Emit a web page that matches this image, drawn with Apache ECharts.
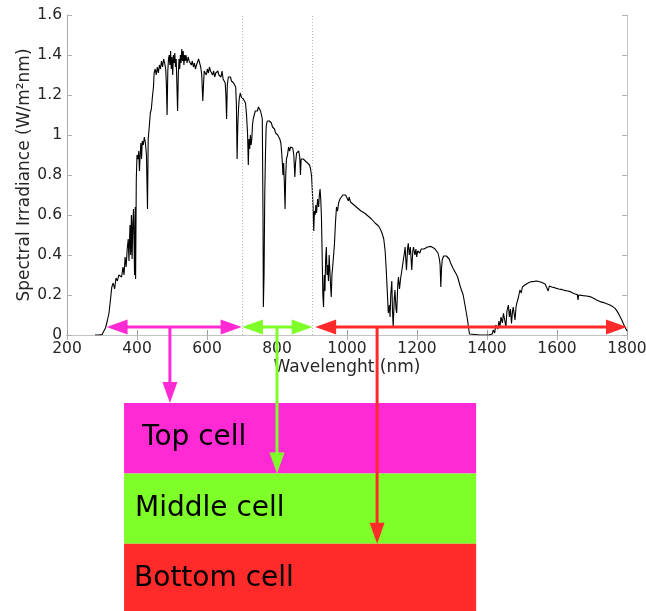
<!DOCTYPE html>
<html>
<head>
<meta charset="UTF-8">
<title>Spectral irradiance and cell layers</title>
<script src="https://cdn.jsdelivr.net/npm/echarts@6/dist/echarts.min.js"></script>
<style>
  html, body { margin: 0; padding: 0; background: #fff; }
  #chart { width: 646px; height: 611px; }
</style>
</head>
<body>
<div id="chart"></div>
<script>
// spectrum: [wavelength nm, irradiance W/(m2 nm)]
const specUv = [
  [280, 0.000], [290, 0.000], [300, 0.002], [305, 0.010], [310, 0.035], [315, 0.070],
  [320, 0.110], [325, 0.190], [328, 0.240], [332, 0.260], [336, 0.230], [340, 0.285],
  [344, 0.270], [348, 0.300], [352, 0.310], [356, 0.290], [360, 0.340], [363, 0.300],
  [366, 0.390], [369, 0.340], [372, 0.430], [375, 0.480], [377, 0.370], [380, 0.550],
  [382, 0.400], [384, 0.600], [386, 0.380], [388, 0.560], [390, 0.630], [392, 0.420],
  [393, 0.300], [395, 0.640], [396, 0.280], [398, 0.780]
];
const specBlue = [
  [400, 0.900], [403, 0.880], [405, 0.920], [407, 0.820], [409, 0.900], [411, 0.960],
  [413, 0.880], [415, 0.970], [418, 0.950], [421, 0.990], [424, 0.960], [427, 0.900],
  [430, 0.630], [432, 0.980], [435, 1.040], [438, 1.110], [441, 1.130], [444, 1.190],
  [447, 1.240], [449, 1.310], [452, 1.330], [455, 1.300], [458, 1.340], [461, 1.310],
  [464, 1.350], [467, 1.330], [470, 1.370], [473, 1.340], [476, 1.380], [479, 1.360],
  [482, 1.330], [484, 1.250], [486, 1.100], [488, 1.320], [490, 1.380], [492, 1.400],
  [494, 1.350], [496, 1.420], [498, 1.330]
];
const specGreen = [
  [500, 1.390], [502, 1.300], [504, 1.400], [506, 1.360], [508, 1.410], [510, 1.340],
  [512, 1.380], [514, 1.250], [516, 1.120], [518, 1.300], [520, 1.380], [522, 1.330],
  [524, 1.400], [526, 1.360], [528, 1.430], [530, 1.370], [532, 1.420], [534, 1.350],
  [536, 1.400], [538, 1.370], [540, 1.400], [543, 1.360], [546, 1.390], [549, 1.370],
  [552, 1.380], [555, 1.350], [558, 1.370], [561, 1.340], [564, 1.360], [567, 1.330],
  [570, 1.350], [573, 1.340], [576, 1.380], [579, 1.370], [582, 1.340], [585, 1.300],
  [588, 1.170], [590, 1.250], [592, 1.320], [595, 1.310], [598, 1.300]
];
const specRed = [
  [601, 1.330], [604, 1.310], [607, 1.340], [610, 1.320], [613, 1.330], [616, 1.300],
  [619, 1.320], [622, 1.290], [625, 1.310], [628, 1.300], [631, 1.320], [634, 1.300],
  [637, 1.310], [640, 1.290], [643, 1.320], [646, 1.280], [649, 1.290], [652, 1.260],
  [654, 1.200], [656, 1.080], [658, 1.250], [661, 1.290], [664, 1.280], [667, 1.290],
  [670, 1.270], [673, 1.280], [676, 1.260], [679, 1.270], [682, 1.240], [684, 1.150],
  [686, 0.880], [688, 1.050], [690, 1.130], [692, 1.180], [695, 1.210], [698, 1.190]
];
const specNear = [
  [701, 1.200], [704, 1.180], [707, 1.190], [710, 1.160], [713, 1.100], [716, 1.000],
  [718, 0.850], [720, 0.980], [722, 0.930], [724, 1.000], [726, 0.950], [728, 0.980],
  [730, 1.050], [732, 1.080], [735, 1.100], [738, 1.120], [741, 1.130], [744, 1.120],
  [747, 1.140], [750, 1.130], [753, 1.120], [756, 1.110], [758, 1.080], [760, 0.600],
  [761, 0.140], [763, 0.300], [765, 0.700], [767, 0.900], [769, 1.040], [772, 1.070],
  [775, 1.080], [778, 1.070], [781, 1.070], [784, 1.060], [787, 1.040], [790, 1.030],
  [793, 1.030], [796, 1.010], [799, 1.010], [802, 1.000], [805, 0.990], [808, 0.980],
  [811, 0.960], [813, 0.920], [815, 0.870], [817, 0.800], [819, 0.860], [821, 0.760],
  [823, 0.630], [825, 0.800], [827, 0.880], [830, 0.900], [833, 0.940], [836, 0.920],
  [839, 0.940], [842, 0.930], [845, 0.935], [848, 0.900], [851, 0.790], [853, 0.860],
  [856, 0.910], [859, 0.900], [862, 0.920], [865, 0.890], [867, 0.800], [869, 0.880],
  [872, 0.890], [875, 0.880], [878, 0.880], [881, 0.870], [884, 0.875], [887, 0.860],
  [890, 0.865], [893, 0.850], [896, 0.830], [899, 0.790]
];
const specIr1 = [
  [901, 0.720], [903, 0.640], [905, 0.520], [907, 0.620], [909, 0.600], [911, 0.650],
  [913, 0.610], [916, 0.680], [919, 0.640], [921, 0.700], [923, 0.730], [925, 0.680],
  [927, 0.590], [929, 0.400], [931, 0.200], [933, 0.140], [935, 0.300], [937, 0.220],
  [939, 0.380], [941, 0.440], [943, 0.300], [945, 0.350], [947, 0.270], [949, 0.400],
  [951, 0.410], [953, 0.250], [955, 0.190], [957, 0.300], [959, 0.340], [961, 0.340],
  [964, 0.450], [967, 0.560], [970, 0.640], [973, 0.620], [976, 0.660], [980, 0.680],
  [984, 0.690], [988, 0.700], [992, 0.705], [996, 0.700], [1000, 0.690], [1004, 0.670],
  [1006, 0.690], [1010, 0.665], [1015, 0.655], [1020, 0.650], [1025, 0.640], [1030, 0.635],
  [1035, 0.630], [1040, 0.620], [1045, 0.615], [1050, 0.610], [1055, 0.605], [1060, 0.595],
  [1065, 0.590], [1070, 0.580], [1075, 0.570], [1080, 0.560], [1085, 0.550], [1090, 0.545],
  [1095, 0.530], [1100, 0.510], [1105, 0.480], [1109, 0.420], [1112, 0.330], [1115, 0.220],
  [1118, 0.110], [1121, 0.150], [1123, 0.090], [1125, 0.200], [1128, 0.270], [1130, 0.120],
  [1132, 0.040], [1135, 0.180], [1137, 0.225], [1140, 0.130], [1142, 0.110], [1145, 0.250],
  [1147, 0.290], [1150, 0.230], [1153, 0.280], [1156, 0.270], [1159, 0.350], [1161, 0.375],
  [1164, 0.410], [1166, 0.440], [1168, 0.380], [1170, 0.325], [1173, 0.430], [1175, 0.458],
  [1178, 0.400], [1181, 0.440], [1185, 0.325], [1188, 0.420], [1190, 0.440], [1194, 0.400],
  [1197, 0.430], [1199, 0.390]
];
const specIr2 = [
  [1202, 0.420], [1204, 0.430], [1208, 0.410], [1212, 0.430], [1216, 0.420], [1220, 0.430],
  [1225, 0.435], [1230, 0.440], [1235, 0.445], [1240, 0.443], [1245, 0.440], [1250, 0.433],
  [1255, 0.425], [1260, 0.410], [1264, 0.380], [1266, 0.350], [1268, 0.240], [1270, 0.330],
  [1272, 0.375], [1276, 0.395], [1280, 0.400], [1284, 0.395], [1288, 0.390], [1292, 0.380],
  [1296, 0.360], [1300, 0.350], [1304, 0.330], [1308, 0.320], [1312, 0.305], [1316, 0.290],
  [1320, 0.280], [1324, 0.240], [1328, 0.220], [1332, 0.200], [1336, 0.160], [1340, 0.120],
  [1344, 0.080], [1347, 0.040], [1350, 0.005], [1355, 0.000], [1380, 0.000], [1405, 0.000],
  [1410, 0.010], [1415, 0.005], [1418, 0.025], [1422, 0.010], [1425, 0.050], [1428, 0.058],
  [1431, 0.030], [1434, 0.070], [1437, 0.040], [1440, 0.090], [1444, 0.060], [1447, 0.108],
  [1450, 0.080], [1454, 0.040], [1457, 0.120], [1461, 0.150], [1464, 0.090], [1467, 0.130],
  [1470, 0.058], [1473, 0.120], [1475, 0.140], [1478, 0.100], [1480, 0.075], [1483, 0.140],
  [1485, 0.158], [1490, 0.190], [1494, 0.225], [1498, 0.210]
];
const specIr3 = [
  [1501, 0.240], [1504, 0.240], [1508, 0.250], [1513, 0.258], [1520, 0.262], [1528, 0.267],
  [1535, 0.268], [1542, 0.270], [1550, 0.266], [1557, 0.262], [1561, 0.260], [1566, 0.255],
  [1571, 0.250], [1575, 0.220], [1578, 0.245], [1585, 0.240], [1592, 0.237], [1599, 0.233],
  [1605, 0.230], [1612, 0.228], [1618, 0.225], [1625, 0.222], [1631, 0.220], [1637, 0.217],
  [1645, 0.210], [1652, 0.205], [1658, 0.202], [1660, 0.175], [1662, 0.200], [1666, 0.200],
  [1675, 0.197], [1684, 0.195], [1694, 0.192], [1703, 0.185], [1713, 0.175], [1723, 0.167],
  [1733, 0.162], [1742, 0.156], [1751, 0.150], [1759, 0.142], [1766, 0.133], [1772, 0.118],
  [1777, 0.103], [1780, 0.092], [1785, 0.075], [1790, 0.055], [1794, 0.040], [1800, 0.020]
];
const spectrum = [].concat(specUv, specBlue, specGreen, specRed, specNear, specIr1, specIr2, specIr3);

// cells of the stack, the band each one takes (nm) and where its arrow drops (nm)
const cellNames = ['Top cell', 'Middle cell', 'Bottom cell'];
const cellColors = ['#ff2ad4', '#7fff2a', '#ff2a2a'];
const cellBands = [[313, 699], [700, 902], [909, 1800]];
const cellDrops = [494, 800, 1086];
const bandEdges = [700, 900];

// layout of the stack below the plot, in axis units (irradiance below zero)
const arrowLevel = 0.04;
const stackLeft = 363, stackRight = 1369;
const stackTop = -0.34, rowH = 0.352;
const textIndent = [18, 11, 10];

const chart = echarts.init(document.getElementById('chart'));
const font = 'DejaVu Sans';
const ink = '#262626';

function renderCell(params, api) {
  const i = api.value(2);
  const color = cellColors[i];
  const tl = api.coord([stackLeft, stackTop - i * rowH]);
  const br = api.coord([stackRight, stackTop - (i + 1) * rowH]);
  const a = api.coord([cellBands[i][0], arrowLevel]);
  const b = api.coord([cellBands[i][1], arrowLevel]);
  const d0 = api.coord([cellDrops[i], arrowLevel]);
  const d1 = api.coord([cellDrops[i], stackTop - i * rowH]);
  const hl = 21, hw = 7.5, lw = 3;
  return {
    type: 'group',
    children: [
      { type: 'rect', shape: { x: tl[0], y: tl[1], width: br[0] - tl[0], height: br[1] - tl[1] },
        style: { fill: color } },
      { type: 'text', style: { text: cellNames[i], x: tl[0] + textIndent[i], y: (tl[1] + br[1]) / 2,
        fill: '#000', fontSize: 28, fontFamily: font, align: 'left', verticalAlign: 'middle' } },
      { type: 'line', shape: { x1: a[0] + hl - 1, y1: a[1], x2: b[0] - hl + 1, y2: b[1] },
        style: { stroke: color, lineWidth: lw } },
      { type: 'polygon', shape: { points: [[a[0], a[1]], [a[0] + hl, a[1] - hw], [a[0] + hl, a[1] + hw]] },
        style: { fill: color } },
      { type: 'polygon', shape: { points: [[b[0], b[1]], [b[0] - hl, b[1] - hw], [b[0] - hl, b[1] + hw]] },
        style: { fill: color } },
      { type: 'line', shape: { x1: d0[0], y1: d0[1], x2: d1[0], y2: d1[1] - hl + 1 },
        style: { stroke: color, lineWidth: lw } },
      { type: 'polygon', shape: { points: [[d1[0], d1[1]], [d1[0] - hw, d1[1] - hl], [d1[0] + hw, d1[1] - hl]] },
        style: { fill: color } }
    ]
  };
}

const frameAxis = {
  axisLabel: { show: false },
  axisLine: { lineStyle: { color: '#c4c4c4', width: 1 } },
  axisTick: { inside: true, length: 5, lineStyle: { color: '#b0b0b0' } },
  splitLine: { show: false }
};

chart.setOption({
  animation: false,
  backgroundColor: '#fff',
  grid: { left: 67, right: 19, top: 15, bottom: 276, containLabel: false, outerBoundsMode: 'none' },
  xAxis: [
    {
      type: 'value', min: 200, max: 1800, interval: 200,
      name: 'Wavelenght (nm)', nameLocation: 'middle', nameGap: 24, nameMoveOverlap: false,
      nameTextStyle: { color: ink, fontSize: 17, fontFamily: font },
      axisLabel: { color: ink, fontSize: 15.5, fontFamily: font, margin: 6, formatter: v => String(v) },
      axisLine: { lineStyle: { color: '#555', width: 1 } },
      axisTick: { inside: true, length: 5, lineStyle: { color: '#999' } },
      splitLine: { show: false }
    },
    Object.assign({ type: 'value', min: 200, max: 1800, interval: 200, position: 'top' }, frameAxis)
  ],
  yAxis: [
    {
      type: 'value', min: 0, max: 1.6, interval: 0.2,
      name: 'Spectral Irradiance (W/m²nm)', nameLocation: 'middle', nameGap: 34, nameRotate: 90,
      nameMoveOverlap: false,
      nameTextStyle: { color: ink, fontSize: 17, fontFamily: font },
      axisLabel: { color: ink, fontSize: 15.5, fontFamily: font, margin: 5, formatter: v => String(v) },
      axisLine: { show: true, lineStyle: { color: '#aaa', width: 1 } },
      axisTick: { show: true, inside: true, length: 5, lineStyle: { color: '#b0b0b0' } },
      splitLine: { show: false }
    },
    Object.assign({ type: 'value', min: 0, max: 1.6, interval: 0.2, position: 'right' }, frameAxis)
  ],
  series: [
    {
      type: 'line',
      data: spectrum,
      showSymbol: false,
      lineStyle: { color: '#000', width: 1.1 },
      z: 3,
      silent: true,
      markLine: {
        silent: true,
        symbol: 'none',
        label: { show: false },
        lineStyle: { color: '#b8b8b8', type: [1, 2], width: 1 },
        data: bandEdges.map(v => ({ xAxis: v }))
      }
    },
    {
      type: 'custom',
      silent: true,
      z: 5,
      clip: false,
      renderItem: renderCell,
      data: cellNames.map((n, i) => [cellDrops[i], arrowLevel, i])
    }
  ]
});
</script>
</body>
</html>
